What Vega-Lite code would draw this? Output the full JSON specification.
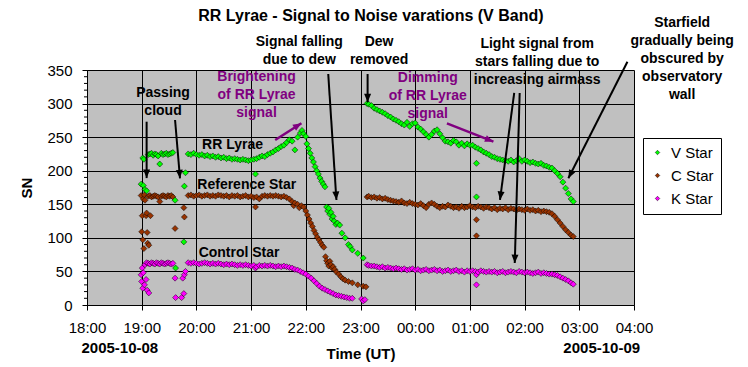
{
  "$schema": "https://vega.github.io/schema/vega-lite/v6.json",
  "width": 547,
  "height": 235,
  "autosize": {"type": "none"},
  "padding": {"left": 87, "top": 70, "right": 114, "bottom": 62},
  "background": "white",
  "config": {"font": "Liberation Sans", "view": {"fill": "#c0c0c0", "stroke": null}},
  "datasets": {
    "sn": [
      {"t":18.99,"V":180,"C":163,"K":45},{"t":19.0,"C":109,"K":35},{"t":19.01,"C":133,"K":55},
      {"t":19.02,"V":219,"C":97,"K":25},{"t":19.03,"V":178,"C":158,"K":48},{"t":19.04,"V":217,"C":84},
      {"t":19.05,"C":164,"K":30},{"t":19.06,"V":172,"C":156,"K":60},{"t":19.08,"C":133,"K":38},
      {"t":19.09,"V":170,"C":137,"K":63},{"t":19.1,"C":108,"K":22},{"t":19.11,"C":92},
      {"t":19.12,"V":224,"C":162,"K":62},{"t":19.13,"C":89,"K":18},{"t":19.15,"V":225,"C":163,"K":61},
      {"t":19.16,"C":133},{"t":19.18,"V":226,"C":161,"K":63},{"t":19.21,"V":223,"C":162,"K":62},
      {"t":19.24,"V":225,"C":163,"K":61},{"t":19.27,"V":224,"C":162,"K":63},{"t":19.3,"V":222,"C":161,"K":62},
      {"t":19.33,"V":210,"C":154,"K":61},{"t":19.36,"V":226,"C":162,"K":63},{"t":19.39,"V":224,"C":163,"K":62},
      {"t":19.42,"V":225,"C":162,"K":61},{"t":19.45,"V":226,"C":161,"K":62},{"t":19.48,"V":224,"C":163,"K":63},
      {"t":19.51,"V":225,"C":162,"K":62},{"t":19.54,"V":226,"C":163,"K":61},{"t":19.57,"V":227,"C":161,"K":62},
      {"t":19.61,"V":156,"C":114,"K":40},{"t":19.62,"V":55,"K":11},{"t":19.73,"K":11},{"t":19.75,"K":40},
      {"t":19.77,"V":94,"C":145,"K":17},{"t":19.78,"V":177,"C":131,"K":45},{"t":19.8,"V":197,"K":50},
      {"t":19.85,"V":225,"C":163,"K":63},{"t":19.9,"V":224,"C":164,"K":62},{"t":19.95,"V":226,"C":162,"K":63},
      {"t":20.0,"V":224,"C":163,"K":62},{"t":20.05,"V":223,"C":164,"K":61},{"t":20.1,"V":224,"C":162,"K":62},
      {"t":20.15,"V":222,"C":163,"K":63},{"t":20.2,"V":223,"C":164,"K":62},{"t":20.25,"V":221,"C":162,"K":61},
      {"t":20.3,"V":222,"C":163,"K":62},{"t":20.35,"V":220,"C":162,"K":61},{"t":20.4,"V":221,"C":164,"K":62},
      {"t":20.45,"V":219,"C":163,"K":61},{"t":20.5,"V":220,"C":162,"K":60},{"t":20.55,"V":218,"C":163,"K":61},
      {"t":20.6,"V":219,"C":161,"K":60},{"t":20.65,"V":217,"C":163,"K":61},{"t":20.7,"V":218,"C":162,"K":60},
      {"t":20.75,"V":217,"C":163,"K":59},{"t":20.8,"V":216,"C":161,"K":60},{"t":20.85,"V":217,"C":162,"K":59},
      {"t":20.9,"V":216,"C":163,"K":60},{"t":20.95,"V":215,"C":161,"K":59},{"t":21.0,"V":216,"C":162,"K":58},
      {"t":21.05,"V":217,"C":160,"K":59},{"t":21.08,"V":195,"C":146,"K":55},{"t":21.1,"V":218,"C":161,"K":57},
      {"t":21.15,"V":220,"C":158,"K":59},{"t":21.2,"V":222,"C":162,"K":58},{"t":21.25,"V":221,"C":163,"K":59},
      {"t":21.3,"V":224,"C":162,"K":58},{"t":21.35,"V":226,"C":163,"K":59},{"t":21.4,"V":228,"C":162,"K":58},
      {"t":21.45,"V":231,"C":163,"K":57},{"t":21.5,"V":233,"C":162,"K":58},{"t":21.55,"V":236,"C":161,"K":57},
      {"t":21.6,"V":238,"C":162,"K":58},{"t":21.65,"V":242,"C":160,"K":57},{"t":21.7,"V":246,"C":158,"K":56},
      {"t":21.75,"V":244,"C":154,"K":55},{"t":21.78,"C":148},{"t":21.8,"V":231,"C":152,"K":53},
      {"t":21.85,"V":250,"C":150,"K":52},{"t":21.88,"C":145},{"t":21.9,"V":256,"K":50},{"t":21.92,"C":148},
      {"t":21.93,"V":260},{"t":21.95,"K":48},{"t":21.96,"V":255,"C":146},{"t":22.0,"V":251,"C":140,"K":46},
      {"t":22.02,"V":240},{"t":22.03,"C":134},{"t":22.05,"V":233,"K":43},{"t":22.06,"C":128},{"t":22.08,"V":226},
      {"t":22.09,"C":122},{"t":22.1,"K":40},{"t":22.11,"V":219},{"t":22.12,"C":117},{"t":22.14,"V":213},
      {"t":22.15,"C":111,"K":36},{"t":22.17,"V":206},{"t":22.18,"C":106},{"t":22.2,"V":200,"K":32},
      {"t":22.21,"C":101},{"t":22.23,"V":195},{"t":22.24,"C":97},{"t":22.25,"K":28},{"t":22.26,"V":189},
      {"t":22.27,"C":93},{"t":22.29,"V":184},{"t":22.3,"C":89,"K":25},{"t":22.32,"V":180},{"t":22.33,"C":86},
      {"t":22.35,"V":176,"K":23},{"t":22.36,"C":72},{"t":22.38,"V":146,"C":66},{"t":22.4,"V":140,"C":62,"K":21},
      {"t":22.42,"V":144,"C":58},{"t":22.44,"V":135,"C":65},{"t":22.45,"K":19},{"t":22.46,"V":138,"C":60},
      {"t":22.48,"V":128,"C":55},{"t":22.5,"V":132,"C":57,"K":17},{"t":22.52,"V":125},{"t":22.53,"C":53},
      {"t":22.55,"V":120,"K":15},{"t":22.56,"C":49},{"t":22.58,"V":122},{"t":22.6,"C":46,"K":14},
      {"t":22.62,"V":119},{"t":22.64,"C":42},{"t":22.65,"K":13},{"t":22.66,"V":107},{"t":22.68,"C":39},
      {"t":22.7,"K":12},{"t":22.72,"V":100,"C":37},{"t":22.75,"K":11},{"t":22.78,"V":90,"C":35},{"t":22.8,"K":10},
      {"t":22.81,"V":87},{"t":22.85,"V":82,"C":33,"K":10},{"t":22.95,"V":77,"C":30},{"t":23.02,"K":9},
      {"t":23.05,"V":70,"C":28,"K":6},{"t":23.08,"K":8},{"t":23.1,"C":27},
      {"t":23.12,"V":300,"C":161,"K":60},{"t":23.15,"V":299,"C":162,"K":59},{"t":23.2,"V":297,"C":160,"K":58},
      {"t":23.25,"V":293,"C":161,"K":58},{"t":23.3,"V":291,"C":159,"K":57},{"t":23.35,"V":289,"C":160,"K":56},
      {"t":23.4,"V":287,"C":158,"K":57},{"t":23.45,"V":285,"C":159,"K":55},{"t":23.5,"V":282,"C":157,"K":56},
      {"t":23.55,"V":280,"C":156,"K":55},{"t":23.6,"V":277,"C":155,"K":54},{"t":23.65,"V":275,"C":154,"K":55},
      {"t":23.7,"V":273,"C":153,"K":54},{"t":23.75,"V":270,"C":155,"K":53},{"t":23.8,"V":268,"C":152,"K":54},
      {"t":23.85,"V":272,"C":151,"K":52},{"t":23.9,"V":266,"C":153,"K":53},{"t":23.95,"V":270,"C":151,"K":54},
      {"t":24.0,"V":271,"C":150,"K":52},{"t":24.05,"V":265,"C":149,"K":53},{"t":24.1,"V":262,"C":151,"K":51},
      {"t":24.15,"V":258,"C":148,"K":52},{"t":24.2,"V":254,"C":145,"K":53},{"t":24.25,"V":250,"C":150,"K":51},
      {"t":24.3,"V":254,"C":152,"K":52},{"t":24.35,"V":259,"C":150,"K":53},{"t":24.4,"V":261,"C":147,"K":51},
      {"t":24.45,"V":255,"C":145,"K":52},{"t":24.5,"V":249,"C":147,"K":50},{"t":24.55,"V":244,"C":146,"K":51},
      {"t":24.6,"V":243,"C":149,"K":52},{"t":24.65,"V":241,"C":147,"K":50},{"t":24.7,"V":245,"C":145,"K":51},
      {"t":24.75,"V":243,"C":146,"K":52},{"t":24.8,"V":238,"C":144,"K":50},{"t":24.85,"V":241,"C":147,"K":51},
      {"t":24.9,"V":237,"C":145,"K":49},{"t":24.95,"V":240,"C":146,"K":51},{"t":25.0,"V":238,"C":148,"K":50},
      {"t":25.05,"V":238,"C":146,"K":51},{"t":25.1,"V":235,"C":145,"K":50},{"t":25.12,"V":211,"C":127,"K":45},
      {"t":25.12,"V":161,"C":103,"K":30},{"t":25.15,"V":233,"C":147,"K":49},{"t":25.2,"V":231,"C":146,"K":51},
      {"t":25.25,"V":228,"C":144,"K":50},{"t":25.3,"V":226,"C":146,"K":49},{"t":25.35,"V":224,"C":145,"K":50},
      {"t":25.4,"V":221,"C":143,"K":49},{"t":25.45,"V":220,"C":145,"K":50},{"t":25.5,"V":218,"C":142,"K":48},
      {"t":25.55,"V":217,"C":144,"K":49},{"t":25.6,"V":216,"C":143,"K":50},{"t":25.65,"V":215,"C":145,"K":48},
      {"t":25.7,"V":214,"C":142,"K":49},{"t":25.75,"V":216,"C":144,"K":50},{"t":25.8,"V":213,"C":143,"K":49},
      {"t":25.85,"V":215,"C":141,"K":48},{"t":25.9,"V":218,"C":143,"K":50},{"t":25.95,"V":214,"C":142,"K":49},
      {"t":26.0,"V":216,"C":141,"K":48},{"t":26.05,"V":214,"C":143,"K":49},{"t":26.1,"V":212,"C":141,"K":48},
      {"t":26.15,"V":213,"C":142,"K":47},{"t":26.2,"V":211,"C":140,"K":48},{"t":26.25,"V":210,"C":141,"K":49},
      {"t":26.3,"V":211,"C":139,"K":47},{"t":26.35,"V":208,"C":140,"K":48},{"t":26.4,"V":207,"C":139,"K":47},
      {"t":26.45,"V":205,"C":138,"K":46},{"t":26.5,"V":204,"C":136,"K":46},{"t":26.55,"V":200,"C":132,"K":45},
      {"t":26.6,"V":196,"C":127,"K":44},{"t":26.65,"V":191,"C":122,"K":42},{"t":26.7,"V":183,"C":117,"K":40},
      {"t":26.75,"V":174,"C":112,"K":38},{"t":26.8,"V":166,"C":108,"K":36},{"t":26.85,"V":158,"C":104,"K":33},
      {"t":26.89,"V":154,"C":102,"K":31}
    ],
    "minor": [
      {"v":10},{"v":20},{"v":30},{"v":40},{"v":60},{"v":70},{"v":80},{"v":90},{"v":110},{"v":120},{"v":130},{"v":140},
      {"v":160},{"v":170},{"v":180},{"v":190},{"v":210},{"v":220},{"v":230},{"v":240},{"v":260},{"v":270},{"v":280},{"v":290},
      {"v":310},{"v":320},{"v":330},{"v":340}
    ],
    "notes": [
      {"kind":"title","t":23.19,"v":430.4,"label":"RR Lyrae - Signal to Noise varations (V Band)"},
      {"kind":"note","t":19.39,"v":315.8,"label":"Passing\ncloud"},
      {"kind":"note","t":21.88,"v":391.3,"label":"Signal falling\ndue to dew"},
      {"kind":"note","t":23.34,"v":391.3,"label":"Dew\nremoved"},
      {"kind":"note","t":26.23,"v":388.3,"label":"Light signal from\nstars falling due to\nincreasing airmass"},
      {"kind":"note","t":28.88,"v":419.6,"label":"Starfield\ngradually being\nobscured by\nobservatory\nwall"},
      {"kind":"note","t":20.66,"v":238,"label":"RR Lyrae"},
      {"kind":"note","t":20.92,"v":179,"label":"Reference Star"},
      {"kind":"note","t":20.78,"v":77,"label":"Control Star"},
      {"kind":"purple","t":21.1,"v":340,"label":"Brightening\nof RR Lyrae\nsignal"},
      {"kind":"purple","t":24.23,"v":337.7,"label":"Dimming\nof RR Lyrae\nsignal"},
      {"kind":"date","t":18.6,"v":-63.6,"label":"2005-10-08"},
      {"kind":"date","t":27.41,"v":-63.6,"label":"2005-10-09"}
    ],
    "arrows": [
      {"kind":"black","t":19.09,"v":273,"t2":19.09,"v2":189,"ang":0},
      {"kind":"black","t":19.61,"v":275.5,"t2":19.7,"v2":188.7,"ang":-5},
      {"kind":"black","t":22.41,"v":344,"t2":22.56,"v2":156.4,"ang":-4},
      {"kind":"black","t":23.13,"v":344,"t2":23.13,"v2":302,"ang":0},
      {"kind":"black","t":25.81,"v":315.8,"t2":25.55,"v2":156.4,"ang":7.5},
      {"kind":"black","t":25.91,"v":315.8,"t2":25.82,"v2":62.5,"ang":1.6},
      {"kind":"black","t":27.88,"v":362.4,"t2":26.8,"v2":188.7,"ang":26.8},
      {"kind":"purple","t":21.44,"v":245.7,"t2":21.92,"v2":270.6,"ang":-122},
      {"kind":"purple","t":24.58,"v":270.6,"t2":25.43,"v2":243.3,"ang":-68.5}
    ]
  },
  "layer": [
    {
      "data": {"name": "sn"},
      "transform": [{"fold": ["V", "C", "K"], "as": ["series", "sn"]}, {"filter": "isValid(datum.sn)"}],
      "mark": {"type": "point", "shape": "diamond", "filled": true, "size": 36, "stroke": "black", "strokeWidth": 0.5, "opacity": 1},
      "encoding": {
        "x": {"field": "t", "type": "quantitative", "scale": {"domain": [18, 28], "nice": false, "zero": false},
          "axis": {"values": [18,19,20,21,22,23,24,25,26,27,28],
            "labelExpr": "(datum.value % 24 < 10 ? '0' : '') + (datum.value % 24) + ':00'",
            "grid": true, "gridColor": "black", "gridOpacity": 1, "gridWidth": 1,
            "domainColor": "black", "tickColor": "black", "tickSize": 5,
            "labelFontSize": 15, "labelColor": "black", "labelPadding": 10, "labelFlush": false, "labelOverlap": false,
            "title": "Time (UT)", "titleFontSize": 15, "titleFontWeight": "bold", "titleColor": "black", "titlePadding": 11}},
        "y": {"field": "sn", "type": "quantitative", "scale": {"domain": [0, 350], "nice": false},
          "axis": {"orient": "left", "values": [0,50,100,150,200,250,300,350],
            "grid": true, "gridColor": "black", "gridOpacity": 1, "gridWidth": 1,
            "domainColor": "black", "tickColor": "black", "tickSize": 5,
            "labelFontSize": 15, "labelColor": "black", "labelPadding": 10, "labelOverlap": false,
            "title": "SN", "titleFontSize": 15, "titleFontWeight": "bold", "titleColor": "black", "titlePadding": 12}},
        "color": {"field": "series", "type": "nominal",
          "scale": {"domain": ["V", "C", "K"], "range": ["#00ff00", "#993300", "#ff00ff"]},
          "legend": {"orient": "none", "legendX": 556, "legendY": 68, "title": null,
            "symbolType": "diamond", "symbolSize": 20, "symbolStrokeColor": "black", "symbolStrokeWidth": 0.5, "symbolOpacity": 1,
            "labelFontSize": 15, "labelColor": "black", "labelExpr": "datum.label + ' Star'", "labelOffset": 6,
            "strokeColor": "black", "fillColor": "white", "padding": 7, "rowPadding": 7}}
      }
    },
    {
      "data": {"name": "minor"},
      "mark": {"type": "tick", "orient": "horizontal", "size": 3, "thickness": 1, "xOffset": -1.5, "color": "black", "opacity": 1},
      "encoding": {
        "x": {"datum": 18},
        "y": {"field": "v", "type": "quantitative", "axis": null}
      }
    },
    {
      "data": {"name": "arrows"},
      "transform": [{"filter": "datum.kind == 'black'"}],
      "mark": {"type": "rule", "color": "black", "strokeWidth": 2},
      "encoding": {
        "x": {"field": "t", "type": "quantitative"},
        "y": {"field": "v", "type": "quantitative", "axis": null},
        "x2": {"field": "t2"},
        "y2": {"field": "v2"}
      }
    },
    {
      "data": {"name": "arrows"},
      "transform": [{"filter": "datum.kind == 'purple'"}],
      "mark": {"type": "rule", "color": "#800080", "strokeWidth": 2.5},
      "encoding": {
        "x": {"field": "t", "type": "quantitative"},
        "y": {"field": "v", "type": "quantitative", "axis": null},
        "x2": {"field": "t2"},
        "y2": {"field": "v2"}
      }
    },
    {
      "data": {"name": "arrows"},
      "transform": [{"filter": "datum.kind == 'black'"}],
      "mark": {"type": "point", "shape": "M0,0L-0.7,-1.7L0.7,-1.7Z", "size": 100, "filled": true, "color": "black", "opacity": 1, "strokeWidth": 0},
      "encoding": {
        "x": {"field": "t2", "type": "quantitative"},
        "y": {"field": "v2", "type": "quantitative", "axis": null},
        "angle": {"field": "ang", "type": "quantitative", "scale": null}
      }
    },
    {
      "data": {"name": "arrows"},
      "transform": [{"filter": "datum.kind == 'purple'"}],
      "mark": {"type": "point", "shape": "M0,0L-0.7,-1.7L0.7,-1.7Z", "size": 100, "filled": true, "color": "#800080", "opacity": 1, "strokeWidth": 0},
      "encoding": {
        "x": {"field": "t2", "type": "quantitative"},
        "y": {"field": "v2", "type": "quantitative", "axis": null},
        "angle": {"field": "ang", "type": "quantitative", "scale": null}
      }
    },
    {
      "data": {"name": "notes"},
      "transform": [{"filter": "datum.kind == 'note'"}],
      "mark": {"type": "text", "font": "Liberation Sans", "fontSize": 14, "fontWeight": "bold", "color": "black", "align": "center", "baseline": "middle", "lineBreak": "\n", "lineHeight": 18},
      "encoding": {
        "x": {"field": "t", "type": "quantitative"},
        "y": {"field": "v", "type": "quantitative", "axis": null},
        "text": {"field": "label"}
      }
    },
    {
      "data": {"name": "notes"},
      "transform": [{"filter": "datum.kind == 'purple'"}],
      "mark": {"type": "text", "font": "Liberation Sans", "fontSize": 14, "fontWeight": "bold", "color": "#800080", "align": "center", "baseline": "middle", "lineBreak": "\n", "lineHeight": 18},
      "encoding": {
        "x": {"field": "t", "type": "quantitative"},
        "y": {"field": "v", "type": "quantitative", "axis": null},
        "text": {"field": "label"}
      }
    },
    {
      "data": {"name": "notes"},
      "transform": [{"filter": "datum.kind == 'date'"}],
      "mark": {"type": "text", "font": "Liberation Sans", "fontSize": 15, "fontWeight": "bold", "color": "black", "align": "center", "baseline": "middle"},
      "encoding": {
        "x": {"field": "t", "type": "quantitative"},
        "y": {"field": "v", "type": "quantitative", "axis": null},
        "text": {"field": "label"}
      }
    },
    {
      "data": {"name": "notes"},
      "transform": [{"filter": "datum.kind == 'title'"}],
      "mark": {"type": "text", "font": "Liberation Sans", "fontSize": 16, "fontWeight": "bold", "color": "black", "align": "center", "baseline": "middle"},
      "encoding": {
        "x": {"field": "t", "type": "quantitative"},
        "y": {"field": "v", "type": "quantitative", "axis": null},
        "text": {"field": "label"}
      }
    }
  ],
  "resolve": {"axis": {"y": "independent"}}
}
